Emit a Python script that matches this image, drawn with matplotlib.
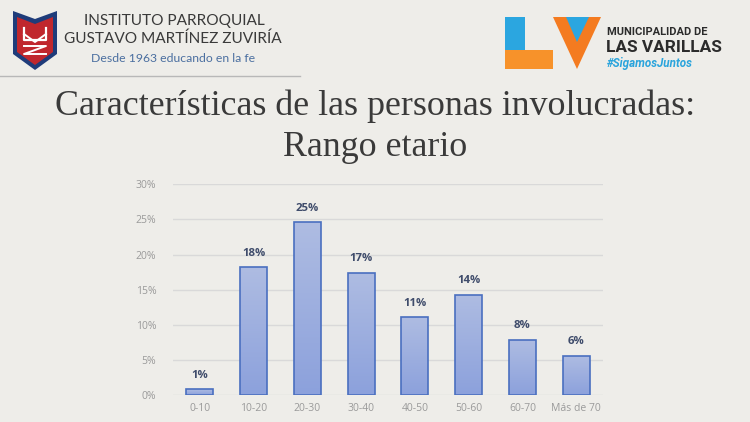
import matplotlib
matplotlib.use("Agg")
import matplotlib.pyplot as plt
import numpy as np
from matplotlib.patches import Polygon, Rectangle
from matplotlib.colors import LinearSegmentedColormap

categories = ["0-10", "10-20", "20-30", "30-40", "40-50", "50-60", "60-70", "Más de 70"]
values = [0.0085, 0.182, 0.246, 0.174, 0.111, 0.143, 0.079, 0.056]
labels = ["1%", "18%", "25%", "17%", "11%", "14%", "8%", "6%"]
yticks = [0, 0.05, 0.10, 0.15, 0.20, 0.25, 0.30]
yticklabels = ["0%", "5%", "10%", "15%", "20%", "25%", "30%"]
title_lines = ["Características de las personas involucradas:", "Rango etario"]

BG = "#EEEDE9"
fig = plt.figure(figsize=(7.5, 4.22), dpi=100, facecolor=BG)

# overlay in pixel coordinates for header
ov = fig.add_axes([0, 0, 1, 1])
ov.set_xlim(0, 750)
ov.set_ylim(422, 0)
ov.axis("off")
ov.set_facecolor("none")

# left shield logo
ov.add_patch(Polygon([(13, 11), (35, 19), (57, 11), (57, 54), (35, 70), (13, 54)],
                     closed=True, fc="#1F3C7A", ec="none"))
ov.add_patch(Polygon([(17, 17), (35, 24), (53, 17), (53, 52), (35, 65), (17, 52)],
                     closed=True, fc="#C0272D", ec="none"))
ov.plot([24, 24, 46, 46], [28, 40, 40, 28], color="white", lw=1.6)
ov.plot([24, 35, 46], [34, 42, 34], color="white", lw=1.4)
ov.plot([24, 46, 24, 46], [46, 46, 54, 54], color="white", lw=1.4)

ov.text(174, 21, "INSTITUTO PARROQUIAL", ha="center", va="center",
        fontsize=11.1, color="#3A3A3A", family="Lato")
ov.text(173, 39, "GUSTAVO MARTÍNEZ ZUVIRÍA", ha="center", va="center",
        fontsize=11.1, color="#3A3A3A", family="Lato")
ov.text(173, 59, "Desde 1963 educando en la fe", ha="center", va="center",
        fontsize=8.8, color="#4B6FA0", family="Lato")
ov.plot([0, 300], [76, 76], color="#B8B8B8", lw=1)

# right logo LV
ov.add_patch(Rectangle((505, 17), 20, 36, fc="#2BA6E0", ec="none"))
ov.add_patch(Rectangle((505, 50), 48, 19, fc="#F7922A", ec="none"))
ov.add_patch(Polygon([(553, 17), (601, 17), (577, 69)], closed=True, fc="#F47B20", ec="none"))
ov.add_patch(Polygon([(566, 17), (589, 17), (577, 42)], closed=True, fc="#2BA6E0", ec="none"))
ov.text(607, 32, "MUNICIPALIDAD DE", ha="left", va="center",
        fontsize=8.0, color="#2B2B2B", family="Roboto", weight="bold")
ov.text(606, 47, "LAS VARILLAS", ha="left", va="center",
        fontsize=12.4, color="#2B2B2B", family="Roboto", weight="bold")
ov.text(607, 63, "#SigamosJuntos", ha="left", va="center",
        fontsize=8.4, color="#2AA4DC", family="Roboto", weight="bold", style="italic")

# title
ov.text(375, 106, title_lines[0], ha="center", va="center",
        fontsize=25.8, color="#3A3A3A", family="Liberation Serif")
ov.text(375, 148, title_lines[1], ha="center", va="center",
        fontsize=25.8, color="#3A3A3A", family="Liberation Serif")

# chart
ax = fig.add_axes([173 / 750, 1 - 395 / 422, 430 / 750, (395 - 184.3) / 422])
ax.set_facecolor("none")
x = np.arange(len(categories))
ax.set_xlim(-0.5, len(categories) - 0.5)
ax.set_ylim(0, 0.30)
ax.set_yticks(yticks)
ax.set_yticklabels(yticklabels)
ax.set_xticks(x)
ax.set_xticklabels(categories)
ax.grid(axis="y", color="#D9D9D9", lw=1)
ax.set_axisbelow(True)
for s in ax.spines.values():
    s.set_visible(False)
ax.tick_params(length=0, labelsize=7.5, labelcolor="#9A9A9A")
ax.tick_params(axis="y", pad=12)
ax.tick_params(axis="x", pad=6)
for t in ax.get_xticklabels() + ax.get_yticklabels():
    t.set_family("Open Sans")

cmap = LinearSegmentedColormap.from_list("g", ["#8CA1DC", "#AEBCE2"])
grad = np.linspace(0, 1, 100).reshape(-1, 1)
bars = ax.bar(x, values, width=0.5, color="none", edgecolor="#4A6FC0", lw=1.2, zorder=3)
for b, v, lab in zip(bars, values, labels):
    x0, w, h = b.get_x(), b.get_width(), b.get_height()
    im = ax.imshow(grad, cmap=cmap, extent=[x0, x0 + w, 0, h], origin="lower",
                   aspect="auto", zorder=2)
    im.set_clip_path(b)
    ax.text(b.get_x() + w / 2, h + 0.012, lab, ha="center", va="bottom",
            fontsize=8.2, weight="bold", color="#3F4C6B", family="Open Sans")
ax.set_xlim(-0.5, len(categories) - 0.5)
ax.set_ylim(0, 0.30)

fig.savefig("out.png", dpi=100, facecolor=BG)
